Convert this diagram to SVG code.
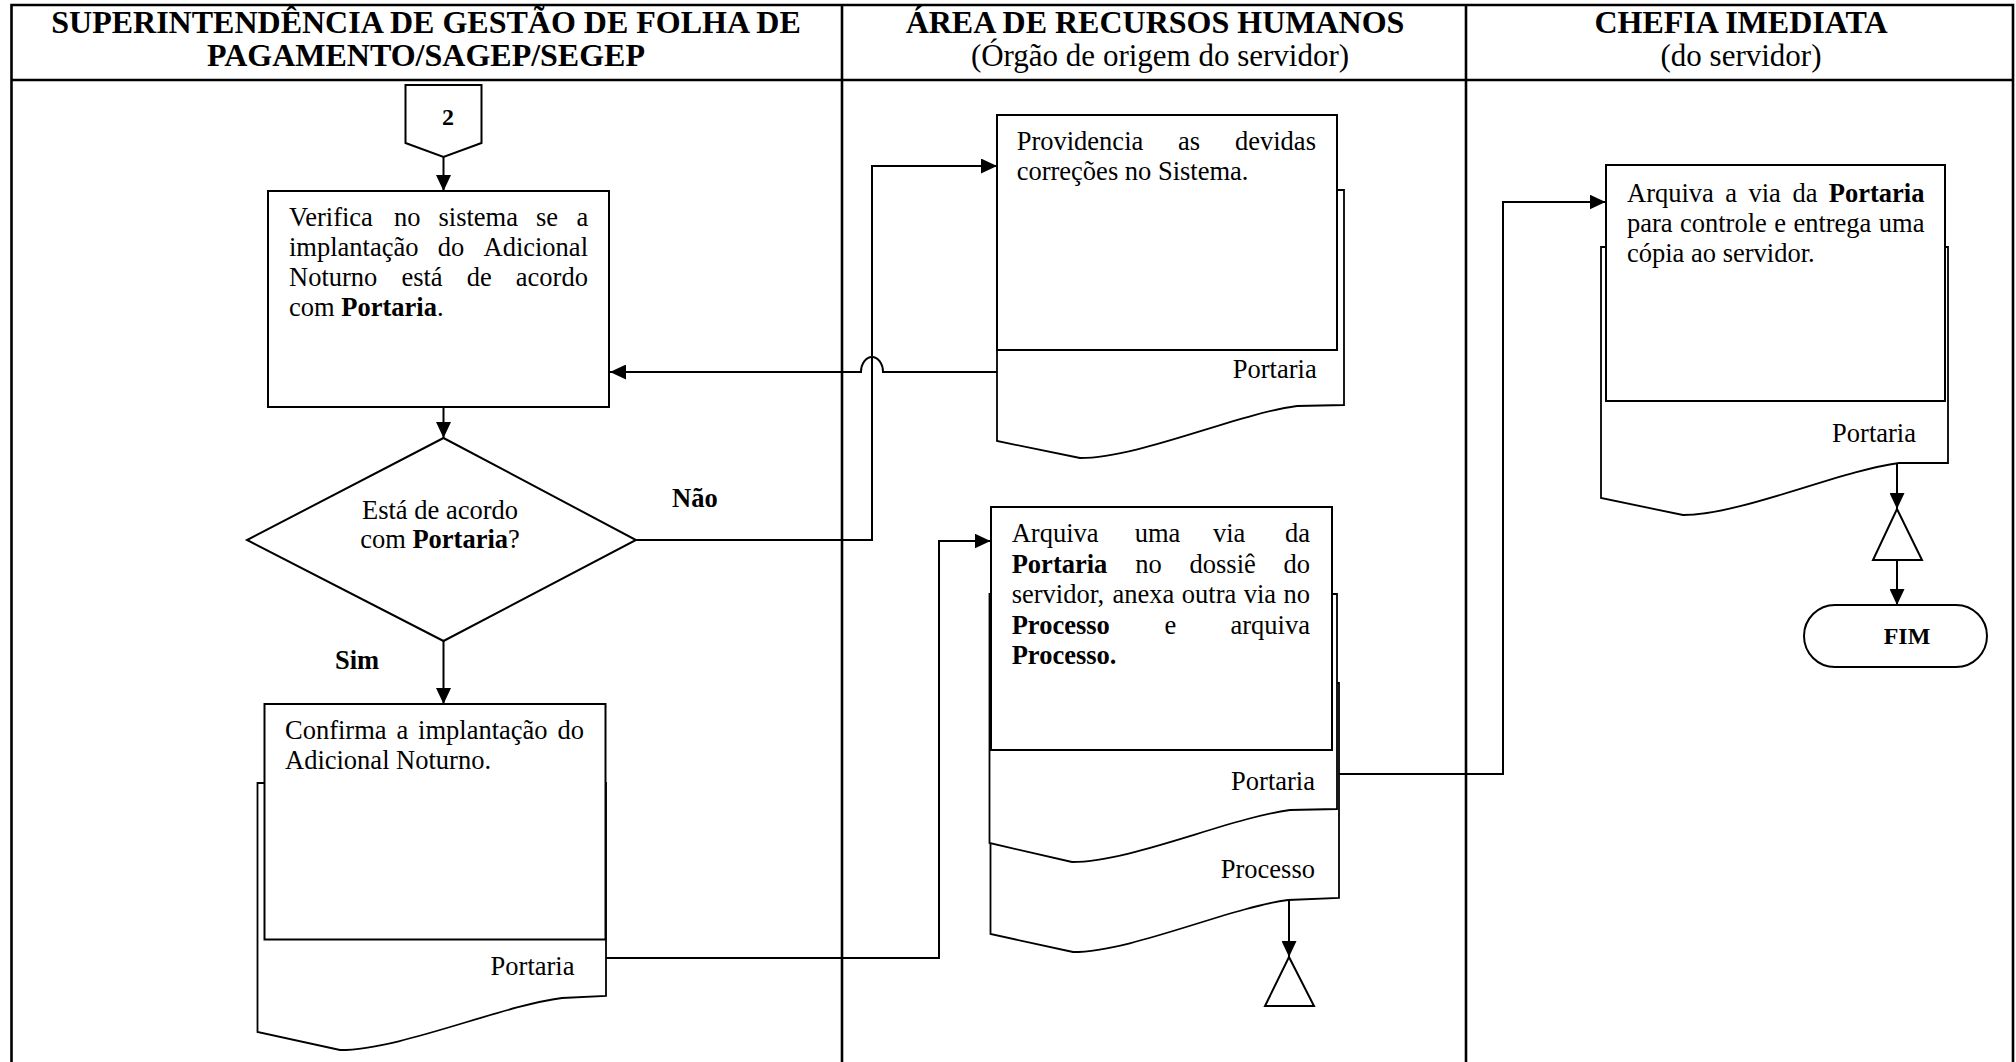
<svg xmlns="http://www.w3.org/2000/svg" width="2016" height="1062" viewBox="0 0 2016 1062">
  <defs>
    <marker id="arrow" markerUnits="userSpaceOnUse" markerWidth="16" markerHeight="15" refX="16" refY="7.5" orient="auto">
      <path d="M0,0 L16,7.5 L0,15 Z" fill="#000"/>
    </marker>
    <style>
      .grid { stroke: #000; stroke-width: 2.6; fill: none; }
      .box { fill: #fff; stroke: #000; stroke-width: 2; }
      .doc { fill: #fff; stroke: #000; stroke-width: 1.8; }
      .line { fill: none; stroke: #000; stroke-width: 2; }
      .arr { marker-end: url(#arrow); }
      text { font-family: "Liberation Serif", "Times New Roman", serif; fill: #000; }
      .hd { font-size: 32px; font-weight: bold; }
      .sub { font-size: 31px; }
      .t { font-size: 26.5px; }
      .b { font-weight: bold; }
      .mid { text-anchor: middle; }
      .end { text-anchor: end; }
    </style>
  </defs>

  <rect width="2016" height="1062" fill="#fff"/>

  <!-- swimlane table -->
  <g id="lanes">
    <path class="grid" d="M11.5,1062 V5 H2013 V1062 M11.5,80 H2013 M842,5 V1062 M1466,5 V1062"/>
    <text class="hd mid" x="426" y="33">SUPERINTENDÊNCIA DE GESTÃO DE FOLHA DE</text>
    <text class="hd mid" x="426" y="66">PAGAMENTO/SAGEP/SEGEP</text>
    <text class="hd mid" x="1155" y="33">ÁREA DE RECURSOS HUMANOS</text>
    <text class="sub mid" x="1160" y="66">(Órgão de origem do servidor)</text>
    <text class="hd mid" x="1741" y="33">CHEFIA IMEDIATA</text>
    <text class="sub mid" x="1741" y="66">(do servidor)</text>
  </g>

  <!-- connectors -->
  <g id="connectors">
    <path class="line arr" d="M443.5,157 V191"/>
    <path class="line arr" d="M443.5,407 V438"/>
    <path class="line arr" d="M443.5,641 V704"/>
    <path class="line arr" d="M636,540 H872 V166 H997"/>
    <path class="line arr" d="M997,372 H883 A11,15 0 0 0 861,372 H610"/>
    <path class="line arr" d="M606,958 H939 V541 H990.5"/>
    <path class="line arr" d="M1337,774 H1503 V202 H1605.5"/>
    <path class="line arr" d="M1289,900 V957"/>
    <path class="line arr" d="M1897,463 V509"/>
    <path class="line arr" d="M1897,560 V605"/>
    <text class="t b" x="672" y="507">Não</text>
    <text class="t b" x="335" y="669">Sim</text>
  </g>

  <!-- off-page connector 2 -->
  <g id="node-start">
    <path class="box" d="M405.5,85 H481.5 V143 L443.5,157 L405.5,143 Z"/>
    <text class="b mid" x="448" y="125" font-size="24">2</text>
  </g>

  <!-- check the system -->
  <g id="node-verifica">
    <rect class="box" x="268" y="191" width="341" height="216"/>
    <text class="t" y="226"><tspan x="289">Verifica</tspan><tspan x="394">no</tspan><tspan x="438.5">sistema</tspan><tspan x="536">se</tspan><tspan x="576.5">a</tspan></text>
    <text class="t" y="256"><tspan x="289">implantação</tspan><tspan x="437.8">do</tspan><tspan x="483.5">Adicional</tspan></text>
    <text class="t" y="286"><tspan x="289">Noturno</tspan><tspan x="401.4">está</tspan><tspan x="466.7">de</tspan><tspan x="515.8">acordo</tspan></text>
    <text class="t" x="289" y="316">com <tspan class="b">Portaria</tspan>.</text>
  </g>

  <!-- decision -->
  <g id="node-decisao">
    <path class="box" d="M443.5,438 L636,540 L443.5,641 L247,540 Z"/>
    <text class="t mid" x="440" y="519">Está de acordo</text>
    <text class="t mid" x="440" y="548">com <tspan class="b">Portaria</tspan>?</text>
  </g>

  <!-- confirm -->
  <g id="node-confirma">
    <path class="doc" d="M257.5,783 H606 V996 L562,998 C500,1006 400,1050 340,1050 L257.5,1032 Z"/>
    <rect class="box" x="264.5" y="704" width="341" height="235.5"/>
    <text class="t" y="739"><tspan x="285">Confirma</tspan><tspan x="396.5">a</tspan><tspan x="418.1">implantação</tspan><tspan x="557.5">do</tspan></text>
    <text class="t" x="285" y="769">Adicional Noturno.</text>
    <text class="t end" x="574.5" y="975">Portaria</text>
  </g>

  <!-- HR corrections -->
  <g id="node-providencia">
    <path class="doc" d="M997,190 H1344 V405 L1297,406 C1236,414 1139,458 1080,458 L997,441 Z"/>
    <rect class="box" x="997" y="115" width="340" height="235"/>
    <text class="t" y="150"><tspan x="1016.7">Providencia</tspan><tspan x="1178.1">as</tspan><tspan x="1235">devidas</tspan></text>
    <text class="t" x="1016.7" y="180">correções no Sistema.</text>
    <text class="t end" x="1316.7" y="378">Portaria</text>
  </g>

  <!-- HR filing -->
  <g id="node-arquiva-rh">
    <path class="doc" d="M990.5,683 H1339 V898 L1288,900 C1228,908 1131,952 1073,952 L990.5,934 Z"/>
    <path class="doc" d="M989.5,594 H1337 V809 L1290,810 C1229,818 1131,862 1072,862 L989.5,843 Z"/>
    <rect class="box" x="991" y="507" width="341" height="243"/>
    <text class="t" y="542"><tspan x="1011.7">Arquiva</tspan><tspan x="1134.7">uma</tspan><tspan x="1213">via</tspan><tspan x="1285.1">da</tspan></text>
    <text class="t" y="572.5"><tspan x="1011.7" class="b">Portaria</tspan><tspan x="1135.2">no</tspan><tspan x="1189.5">dossiê</tspan><tspan x="1283.5">do</tspan></text>
    <text class="t" y="603"><tspan x="1011.7">servidor,</tspan><tspan x="1112.6">anexa</tspan><tspan x="1181.8">outra</tspan><tspan x="1243.7">via</tspan><tspan x="1283.5">no</tspan></text>
    <text class="t" y="633.5"><tspan x="1011.7" class="b">Processo</tspan><tspan x="1164.5">e</tspan><tspan x="1230.5">arquiva</tspan></text>
    <text class="t b" x="1011.7" y="664">Processo.</text>
    <text class="t end" x="1315" y="790">Portaria</text>
    <text class="t end" x="1315" y="878">Processo</text>
  </g>

  <!-- HR archive -->
  <g id="node-arquivo-rh">
    <path class="box" d="M1289,957 L1314,1006 H1265 Z"/>
  </g>

  <!-- supervisor filing -->
  <g id="node-arquiva-chefia">
    <path class="doc" d="M1601,247 H1948 V463 L1899,463 C1839,471 1741,515 1683,515 L1601,498 Z"/>
    <rect class="box" x="1606" y="165" width="339" height="236"/>
    <text class="t" y="202"><tspan x="1627">Arquiva</tspan><tspan x="1725.3">a</tspan><tspan x="1748.5">via</tspan><tspan x="1792.4">da</tspan><tspan x="1828.8" class="b">Portaria</tspan></text>
    <text class="t" y="232"><tspan x="1627">para</tspan><tspan x="1680">controle</tspan><tspan x="1774.2">e</tspan><tspan x="1793.4">entrega</tspan><tspan x="1878.8">uma</tspan></text>
    <text class="t" x="1627" y="262">cópia ao servidor.</text>
    <text class="t end" x="1916" y="442">Portaria</text>
  </g>

  <!-- supervisor archive -->
  <g id="node-arquivo-chefia">
    <path class="box" d="M1897,509 L1922,560 H1873 Z"/>
  </g>

  <!-- end -->
  <g id="node-fim">
    <rect class="box" x="1804" y="605" width="183" height="62" rx="31" ry="31"/>
    <text class="b mid" x="1907" y="644" font-size="24">FIM</text>
  </g>
</svg>
